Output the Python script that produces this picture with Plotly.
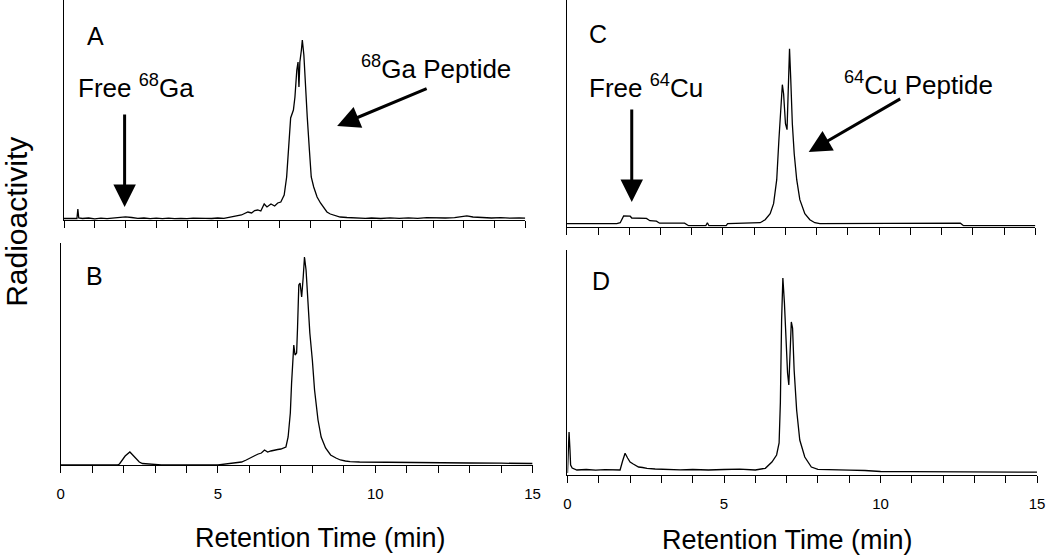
import plotly.graph_objects as go

# ---------------- data ----------------
# Panel A: 68Ga peptide, crude
tA = [0.0, 0.3, 0.42, 0.45, 0.48, 0.6, 0.8, 1.0, 1.2, 1.4, 1.6, 1.8, 2.0, 2.2, 2.4, 2.6, 2.8, 3.0,
      3.2, 3.4, 3.6, 3.8, 4.0, 4.2, 4.4, 4.6, 4.8, 5.0, 5.2, 5.4, 5.6, 5.77, 5.98, 6.1, 6.2, 6.3,
      6.4, 6.51, 6.6, 6.73, 6.85, 6.95, 7.05, 7.16, 7.24, 7.32, 7.37, 7.46, 7.51, 7.57, 7.61, 7.64,
      7.67, 7.72, 7.75, 7.8, 7.86, 7.91, 7.98, 8.04, 8.12, 8.23, 8.34, 8.45, 8.55, 8.66, 8.77, 8.88,
      8.98, 9.2, 9.4, 9.6, 9.8, 10.0, 10.3, 10.6, 10.9, 11.2, 11.5, 11.8, 12.1, 12.4, 12.7, 12.9,
      13.1, 13.3, 13.6, 13.9, 14.2, 14.5, 14.8, 15.0]
yA = [1.5, 1.5, 1.5, 11, 2, 1.5, 2, 1.2, 1.8, 1.3, 1.8, 2.2, 3.2, 2.5, 1.6, 2.0, 1.4, 1.8,
      1.3, 1.9, 1.4, 1.7, 1.3, 1.8, 1.4, 1.7, 1.5, 2.0, 1.6, 2.6, 3.5, 5, 8, 7, 9.5, 10,
      9, 16, 13, 16, 14, 17, 18, 25, 43, 80, 102, 110, 123, 150, 158, 133,
      158, 170, 180, 165, 127, 103, 70, 43, 33, 23, 17, 12, 8, 6, 5, 3.5,
      3, 2.5, 2, 2.2, 1.6, 2.0, 1.5, 2.1, 1.6, 2.2, 1.7, 2.3, 1.8, 2.0, 2.3, 3.5,
      4.2, 3.0, 2.4, 2.0, 2.4, 1.8, 2.2, 1.8]

# Panel B: 68Ga peptide, co-injection
tB = [0.0, 1.8, 1.87, 1.95, 2.05, 2.2, 2.3, 2.4, 2.5, 2.6, 2.8, 3.0, 3.2, 5.0, 5.2, 5.43, 5.6,
      5.75, 5.9, 6.06, 6.18, 6.28, 6.38, 6.48, 6.58, 6.68, 6.79, 6.9, 7.0, 7.16, 7.23, 7.3, 7.34,
      7.38, 7.41, 7.45, 7.5, 7.53, 7.57, 7.61, 7.66, 7.71, 7.75, 7.8, 7.86, 7.92, 8.0, 8.07, 8.18,
      8.28, 8.42, 8.58, 8.75, 8.89, 9.05, 9.2, 9.5, 10.0, 10.5, 11.0, 12.0, 13.0, 14.0, 15.0]
yB = [0, 0, 1, 5, 9, 13, 10, 6, 3, 1.5, 1, 0.5, 0, 0, 0.8, 1, 2,
      3, 5, 8, 9.5, 11, 12, 15, 13, 14, 15, 15.5, 16, 18, 28, 52, 82,
      115, 120, 110, 112, 138, 180, 182, 168, 188, 208, 195, 165, 132, 105, 75, 45,
      28, 17, 10, 7, 5, 4, 3.3, 3, 2.8, 2.5, 2.2, 2, 2, 1.8, 1.5]

# Panel C: 64Cu peptide, crude
tC = [0.0, 1.6, 1.71, 1.82, 2.03, 2.08, 2.55, 2.66, 2.87, 2.97, 3.77, 3.9, 4.45, 4.5, 4.55, 5.1,
      5.15, 6.0, 6.19, 6.35, 6.51, 6.62, 6.72, 6.79, 6.86, 6.9, 6.94, 7.0, 7.05, 7.09, 7.13, 7.17,
      7.22, 7.28, 7.36, 7.46, 7.62, 7.78, 7.94, 8.1, 9.0, 10.0, 11.0, 12.0, 12.6, 12.7, 15.0]
yC = [3, 3, 4, 10.7, 10.5, 8.7, 8.3, 6, 5.5, 3.5, 3.5, 1, 1, 4, 1, 1,
      3, 3.5, 4, 7, 13, 23, 47, 87, 120, 142, 133, 103, 97, 137, 178, 147,
      103, 73, 47, 27, 13, 7, 4, 3, 3, 3, 3, 3, 3.5, 1, 1]

# Panel D: 64Cu peptide, co-injection
tD = [0.0, 0.03, 0.05, 0.08, 0.1, 0.15, 0.3, 0.6, 0.9, 1.2, 1.5, 1.68, 1.76, 1.84, 1.92, 2.0,
      2.1, 2.27, 2.4, 2.54, 2.8, 3.2, 3.6, 4.0, 4.5, 5.0, 5.5, 6.0, 6.32, 6.53, 6.68, 6.76, 6.8,
      6.84, 6.88, 6.93, 6.98, 7.03, 7.07, 7.12, 7.15, 7.19, 7.24, 7.32, 7.42, 7.58, 7.79, 8.0,
      8.5, 9.0, 9.5, 10.0, 11.0, 12.0, 13.0, 14.0, 15.0]
yD = [2, 20, 43, 25, 10, 7, 5, 5.5, 4.8, 5.3, 5, 5, 14, 21.7, 17, 13,
      11, 8, 7.5, 6.7, 6, 5.5, 5.2, 5.5, 5, 5.5, 5.8, 5, 6.7, 13, 20, 32, 72,
      155, 197, 172, 132, 102, 90, 138, 153, 147, 105, 65, 35, 18, 8, 5.7,
      5, 4.8, 4.5, 3.5, 3.3, 3, 3.2, 2.8, 2.8]

xtick_vals = list(range(0, 16))
xtick_text = [str(v) if v % 5 == 0 else "" for v in xtick_vals]

panel_labels = ["A", "B", "C", "D"]

# ---------------- figure ----------------
W, H = 1050, 556
FONT = "Liberation Sans, Arial, sans-serif"


def px_x(x):
    return x / W


def px_y(y):
    return (H - y) / H


fig = go.Figure()
series = [(tA, yA), (tB, yB), (tC, yC), (tD, yD)]
for i, (t, y) in enumerate(series):
    n = "" if i == 0 else str(i + 1)
    fig.add_trace(go.Scatter(x=t, y=y, mode="lines", line=dict(color="black", width=1.3),
                             xaxis="x" + n, yaxis="y" + n, showlegend=False, hoverinfo="skip"))

# domains in pixels: (left, right, top, bottom), y-range max
geo = [(60.7, 527.3, 0, 220, 220),
       (57.3, 534.7, 243, 465, 222),
       (569.3, 1043.3, 0, 226.7, 226.7),
       (570, 1045, 250, 475, 225)]

layout = dict(width=W, height=H, margin=dict(l=0, r=0, t=0, b=0),
              paper_bgcolor="white", plot_bgcolor="white",
              font=dict(family=FONT, color="black"))
for i, (l, r, t, b, ymax) in enumerate(geo):
    n = "" if i == 0 else str(i + 1)
    show = i in (1, 3)
    layout["xaxis" + n] = dict(domain=[px_x(l), px_x(r)], range=[0, 15], anchor="y" + n,
                               showline=True, linecolor="black", linewidth=1.2,
                               ticks="outside", ticklen=7, tickwidth=1.2, tickcolor="black",
                               tickvals=xtick_vals, ticktext=xtick_text,
                               showticklabels=show, tickfont=dict(size=15, family=FONT),
                               ticklabelstandoff=8,
                               showgrid=False, zeroline=False)
    layout["yaxis" + n] = dict(domain=[px_y(b), px_y(t)], range=[0, ymax], anchor="x" + n,
                               showline=True, linecolor="black", linewidth=1.2,
                               ticks="", showticklabels=False, showgrid=False, zeroline=False)
fig.update_layout(**layout)

ann = []
# panel letters
for lab, (x, y) in zip(panel_labels, [(93, 36), (92, 276), (601, 34), (604, 281)]):
    ann.append(dict(text=lab, x=px_x(x), y=px_y(y), xref="paper", yref="paper",
                    showarrow=False, font=dict(size=25, family=FONT), xanchor="center", yanchor="middle"))
# labels
texts = [("Free <sup>68</sup>Ga", 134, 86), ("<sup>68</sup>Ga Peptide", 437, 67),
         ("Free <sup>64</sup>Cu", 649, 86), ("<sup>64</sup>Cu Peptide", 925, 84)]
for s, x, y in texts:
    ann.append(dict(text=s, x=px_x(x), y=px_y(y), xref="paper", yref="paper",
                    showarrow=False, font=dict(size=26, family=FONT), xanchor="center", yanchor="middle"))
# arrows (tip x, tip y, dx, dy)
arrows = [(122, 207, 0, -94), (337, 126, 91, -38), (635, 202, 0, -94), (814, 152, 93, -54)]
for x, y, dx, dy in arrows:
    ann.append(dict(text="", x=px_x(x), y=px_y(y), xref="paper", yref="paper",
                    showarrow=True, ax=dx, ay=dy, axref="pixel", ayref="pixel",
                    arrowhead=2, arrowsize=1.5, arrowwidth=3, arrowcolor="black", standoff=0))
# axis titles
for x, y in [(320, 538), (793, 540)]:
    ann.append(dict(text="Retention Time (min)", x=px_x(x), y=px_y(y), xref="paper", yref="paper",
                    showarrow=False, font=dict(size=27, family=FONT), xanchor="center", yanchor="middle"))
ann.append(dict(text="Radioactivity", x=px_x(13), y=px_y(222), xref="paper", yref="paper",
                showarrow=False, textangle=-90, font=dict(size=30, family=FONT),
                xanchor="center", yanchor="middle"))
fig.update_layout(annotations=ann)

fig.write_html("out.html", config={"displayModeBar": False},
               post_script="document.body.style.margin='0px';document.body.style.overflow='hidden';")
